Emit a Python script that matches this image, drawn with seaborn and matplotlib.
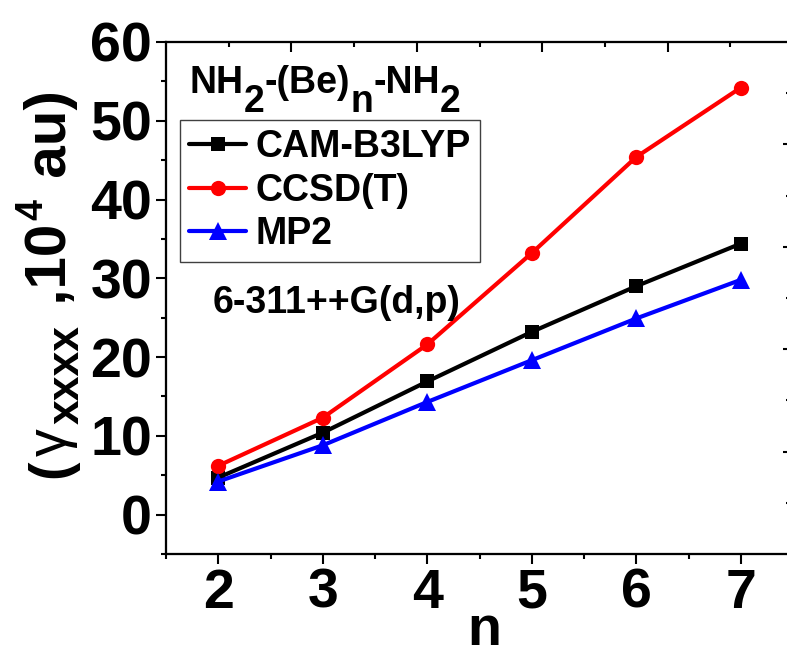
import numpy as np
import pandas as pd
import matplotlib
matplotlib.use("Agg")
import matplotlib.pyplot as plt
import seaborn as sns
from matplotlib.ticker import FixedLocator, MultipleLocator
from matplotlib.transforms import IdentityTransform

# ---- data ----
n_values = [2, 3, 4, 5, 6, 7]
cam_b3lyp = [4.7, 10.4, 16.9, 23.2, 29.0, 34.4]
ccsd_t = [6.2, 12.3, 21.6, 33.2, 45.4, 54.2]
mp2 = [4.2, 8.8, 14.3, 19.6, 24.9, 29.8]
methods = ["CAM-B3LYP", "CCSD(T)", "MP2"]
colors = ["#000000", "#ff0000", "#0000ff"]
marker_shapes = ["s", "o", "^"]
x_ticks = [2, 3, 4, 5, 6, 7]
y_ticks = [0, 10, 20, 30, 40, 50, 60]
top_major = [2.7, 3.9, 5.1, 6.3]
top_minor = [2.1, 3.3, 4.5, 5.7, 6.9]
right_major = [8, 21, 34, 47]
right_minor = [1.5, 14.5, 27.5, 40.5, 53.5]

sns.set_theme(style="ticks")
plt.rcParams["font.family"] = ["Liberation Sans", "DejaVu Sans"]
plt.rcParams["font.weight"] = "bold"

df = pd.DataFrame({
    "n": n_values * 3,
    "gamma": cam_b3lyp + ccsd_t + mp2,
    "method": [m for m in methods for _ in n_values],
})

fig = plt.figure(figsize=(7.87, 6.56), dpi=100)
W, H = 787, 656
ax = fig.add_axes([166 / W, (H - 554) / H, 627 / W, 512 / H])

sns.lineplot(data=df, x="n", y="gamma", hue="method", style="method",
             hue_order=methods, style_order=methods,
             palette=dict(zip(methods, colors)),
             markers=dict(zip(methods, marker_shapes)), dashes=False,
             linewidth=3, markersize=10, markeredgewidth=0,
             errorbar=None, legend=False, ax=ax)
for line, ms in zip(ax.lines, [10, 11, 12.5]):
    line.set_markersize(ms)

ax.set_xlim(1.5, 7.5)
ax.set_ylim(-5, 60)
ax.set_xticks(x_ticks)
ax.set_yticks(y_ticks)
ax.xaxis.set_minor_locator(MultipleLocator(0.5))
ax.yaxis.set_minor_locator(MultipleLocator(5))
ax.tick_params(which="major", direction="out", length=7, width=1.5,
               labelsize=40, pad=3, color="black", labelcolor="black")
ax.tick_params(which="minor", direction="out", length=3.6, width=1.5, color="black")
ax.tick_params(top=False, right=False, which="both")
for sp in ax.spines.values():
    sp.set_linewidth(1.5)
    sp.set_color("black")
ax.set_ylabel("")
ax.set_xlabel("n", fontsize=40, fontweight="bold", color="black", va="baseline")
ax.xaxis.set_label_coords(0.507, -0.177)

axt = ax.twiny()
axt.set_xlim(1.5, 7.5)
axt.xaxis.set_major_locator(FixedLocator(top_major))
axt.xaxis.set_minor_locator(FixedLocator(top_minor))
axt.tick_params(axis="x", which="major", direction="in", length=7, width=1.5,
                labeltop=False, color="black")
axt.tick_params(axis="x", which="minor", direction="in", length=3.6, width=1.5,
                color="black")
axr = ax.twinx()
axr.set_ylim(-5, 60)
axr.yaxis.set_major_locator(FixedLocator(right_major))
axr.yaxis.set_minor_locator(FixedLocator(right_minor))
axr.tick_params(axis="y", which="major", direction="in", length=7, width=1.5,
                labelright=False, color="black")
axr.tick_params(axis="y", which="minor", direction="in", length=5, width=1.5,
                color="black")
for a in (axt, axr):
    for sp in a.spines.values():
        sp.set_linewidth(1.5)
        sp.set_color("black")

leg = ax.legend(ax.lines[:3], methods, loc="upper left",
                bbox_to_anchor=((180 - 166) / 627, (554 - 120) / 512),
                borderaxespad=0, fontsize=27, frameon=True, fancybox=False,
                edgecolor="#404040", framealpha=1, handlelength=1.5,
                handletextpad=0.27, labelspacing=0.2, borderpad=0.25)
leg.get_frame().set_linewidth(1.0)
for t in leg.get_texts():
    t.set_fontweight("bold")
    t.set_color("black")

renderer = fig.canvas.get_renderer()


def chain(pieces, x0, y0, rotation=0, gap=0.0):
    pos = 0.0
    for text, size, shift, weight in pieces:
        if rotation == 0:
            x, y = x0 + pos, y0 + shift
        else:
            x, y = x0 - shift, y0 + pos
        t = fig.text(x, y, text, transform=IdentityTransform(), fontsize=size,
                     fontweight=weight, ha="left", va="baseline",
                     rotation=rotation, rotation_mode="anchor", color="black")
        bb = t.get_window_extent(renderer)
        pos += (bb.width if rotation == 0 else bb.height) + gap


chain([("NH", 27, 0, "bold"), ("2", 27, -19, "bold"), ("-(Be)", 27, 0, "bold"),
       ("n", 27, -19, "bold"), ("-NH", 27, 0, "bold"), ("2", 27, -19, "bold")],
      190, H - 93)
chain([("6-311++G(d,p)", 27, 0, "bold")], 213, H - 313)
chain([("(", 40, 0, "bold"), ("γ", 40, 0, "normal"), ("xxxx", 32, -13, "bold"),
       (" ,10", 42, 0, "bold"), ("4", 27, 24, "bold"), (" au)", 42, 0, "bold")],
      66, H - 478, rotation=90, gap=4)

fig.savefig("out.png", dpi=100)
